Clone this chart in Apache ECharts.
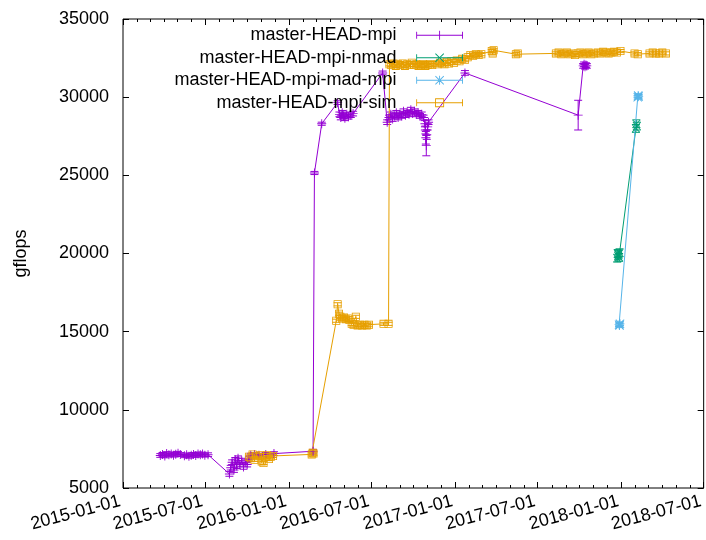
<!DOCTYPE html>
<html><head><meta charset="utf-8">
<script src="https://cdn.jsdelivr.net/npm/echarts@6/dist/echarts.min.js"></script>
<style>html,body{margin:0;padding:0;background:#fff}#c{width:706px;height:540px}</style>
</head><body><div id="c"></div>
<script>
// ---------- DATA ----------
const xTickLabels = ['2015-01-01','2015-07-01','2016-01-01','2016-07-01','2017-01-01','2017-07-01','2018-01-01','2018-07-01'];
const yTickValues = [5000,10000,15000,20000,25000,30000,35000];
const seriesNames = ['master-HEAD-mpi','master-HEAD-mpi-nmad','master-HEAD-mpi-mad-mpi','master-HEAD-mpi-sim'];

const mpiDates = ['2015-03-24','2015-03-29','2015-04-03','2015-04-07','2015-04-12','2015-04-17','2015-04-22','2015-04-27','2015-05-02','2015-05-07',
 '2015-05-16','2015-05-21','2015-05-26','2015-05-31','2015-06-05','2015-06-10','2015-06-15','2015-06-20','2015-06-25','2015-06-30','2015-07-07',
 '2015-08-23','2015-08-26','2015-08-29','2015-09-02','2015-09-05','2015-09-08','2015-09-11','2015-09-15','2015-09-19','2015-09-23','2015-09-27','2015-10-01','2015-10-05',
 '2015-10-09','2015-10-17','2015-10-27','2015-11-11','2015-11-29','2016-02-23','2016-02-26','2016-03-13','2016-04-17',
 '2016-04-21','2016-04-24','2016-04-27','2016-04-30','2016-05-03','2016-05-07','2016-05-11','2016-05-16','2016-05-21',
 '2016-07-25',
 '2016-08-04','2016-08-08','2016-08-12','2016-08-16','2016-08-20','2016-08-24','2016-08-28','2016-09-01','2016-09-05','2016-09-09','2016-09-13','2016-09-17','2016-09-21','2016-09-25','2016-09-29','2016-10-03','2016-10-07','2016-10-11','2016-10-15','2016-10-19','2016-10-23',
 '2016-10-26','2016-10-27','2016-10-28','2016-10-29','2016-10-30','2016-11-01','2016-11-03',
 '2017-01-22','2017-09-28','2017-10-09','2017-10-11','2017-10-13','2017-10-15','2017-10-17'];
const mpiValues = [7080,7150,7050,7200,7120,7180,7100,7160,7220,7140,
 7060,7120,7030,7100,7150,7080,7180,7120,7170,7100,7130,
 5900,6300,6650,6150,6800,6400,6900,6500,6750,6350,6650,6500,6850,
 7100,7150,7100,7150,7200,7350,25150,28300,29650,
 28900,28700,29000,28800,28650,28900,28750,28850,28950,
 31550,
 28400,28700,28900,28600,28800,29000,28700,28900,28800,29100,28850,29000,28900,29200,28950,29100,28900,29000,28800,28900,28700,
 28300,27900,27400,26900,27600,28100,28400,
 31550,28850,32000,32100,31950,32050,32000];
const mpiErrors = [120,120,120,120,120,120,120,120,120,120,
 120,120,120,120,120,120,120,120,120,120,120,
 150,150,150,150,150,150,150,150,150,150,150,150,150,
 120,120,120,120,120,120,100,100,120,
 150,150,150,150,150,150,150,150,150,
 120,
 150,150,150,150,150,150,150,150,150,150,150,150,150,150,150,150,150,150,150,150,150,
 200,250,400,650,300,200,150,
 150,950,150,150,150,150,150];

const nmadDates = ['2017-12-23','2017-12-24','2017-12-25','2017-12-26','2017-12-27','2017-12-28','2018-02-02','2018-02-03','2018-02-04'];
const nmadValues = [19700,20000,19850,19950,19750,20050,28000,28300,28150];
const nmadErrors = [250,250,250,250,250,250,250,250,250];

const madDates = ['2017-12-27','2017-12-28','2017-12-29','2018-02-06','2018-02-07','2018-02-08'];
const madValues = [15450,15400,15500,30000,30100,30050];
const madErrors = [120,120,120,120,120,120];

const simDates = ['2015-10-05','2015-10-09','2015-10-13','2015-10-17','2015-10-21','2015-10-25','2015-10-29','2015-11-02','2015-11-06','2015-11-10','2015-11-14','2015-11-18','2015-11-22','2015-11-27',
 '2016-02-20','2016-02-22','2016-02-24',
 '2016-04-14','2016-04-17','2016-04-20','2016-04-23','2016-04-27','2016-05-01','2016-05-05','2016-05-09','2016-05-13','2016-05-18','2016-05-22','2016-05-27','2016-05-31','2016-06-05','2016-06-10','2016-06-15','2016-06-20','2016-06-25',
 '2016-07-27','2016-08-07','2016-08-09',
 '2016-08-13','2016-08-18','2016-08-23','2016-08-28','2016-09-02','2016-09-07','2016-09-12','2016-09-17','2016-09-22','2016-09-27','2016-10-02','2016-10-07','2016-10-12','2016-10-17','2016-10-22','2016-10-27','2016-11-01','2016-11-06','2016-11-11',
 '2016-11-23','2016-11-28','2016-12-03','2016-12-08','2016-12-13','2016-12-18','2016-12-23','2016-12-29',
 '2017-01-04','2017-01-10','2017-01-16','2017-01-22','2017-01-28',
 '2017-02-03','2017-02-09','2017-02-15','2017-02-21','2017-02-27',
 '2017-03-22','2017-03-24','2017-03-26','2017-05-14','2017-05-18',
 '2017-08-10','2017-08-16','2017-08-22','2017-08-28','2017-09-03','2017-09-09','2017-09-15','2017-09-21','2017-09-27','2017-10-03','2017-10-09','2017-10-15','2017-10-21','2017-10-27','2017-11-02',
 '2017-11-10','2017-11-16','2017-11-22','2017-11-28','2017-12-04','2017-12-10','2017-12-16','2017-12-22','2017-12-30',
 '2018-01-30','2018-02-06',
 '2018-03-04','2018-03-11','2018-03-18','2018-03-25','2018-04-01','2018-04-09'];
const simValues = [7000,6900,7150,6800,7050,6950,7100,6700,6600,7000,7100,6850,7000,7050,
 7150,7250,7200,
 15700,16750,16150,15950,15850,15900,15800,15850,15750,15500,15450,15950,15400,15450,15400,15450,15400,15450,
 15500,15500,32100,
 32050,32150,32000,32100,32050,32150,32000,32100,32050,32200,32050,32100,32000,32050,32100,32000,32050,32100,32050,
 32100,32200,32150,32100,32250,32150,32300,32200,
 32350,32300,32450,32400,32550,
 32700,32650,32750,32700,32750,
 32950,32800,33000,32750,32800,
 32800,32850,32750,32800,32850,32750,32800,32700,32800,32850,32750,32800,32850,32750,32800,
 32850,32800,32900,32850,32800,32850,32900,32850,32950,
 32800,32750,
 32800,32850,32800,32800,32850,32800];
const simErrors = simValues.map(() => 100);

// ---------- STYLE ----------
const FONT = '"Liberation Sans", Arial, sans-serif';
const COLORS = ['#9400d3', '#009e73', '#56b4e9', '#e69f00'];
const PLUS = 'M0,4.5H10V5.5H0Z M4.5,0H5.5V10H4.5Z';
const CROSS = 'M0,0.7L0.7,0L10,9.3L9.3,10Z M10,0.7L9.3,0L0,9.3L0.7,10Z';
const SQUARE = 'M0,0H10V10H0Z M1,1V9H9V1Z';
const SYMBOLS = ['path://' + PLUS, 'path://' + CROSS, 'path://' + PLUS + ' ' + CROSS, 'path://' + SQUARE];
const SYMSIZE = [9, 8, 9, 8];

const LBASE = 'M0,1H1V9H0Z M51,1H52V9H51Z M0,4.5H52V5.5H0Z';
const LPLUS = 'M21,4.5H31V5.5H21Z M25.5,0H26.5V10H25.5Z';
const LCROSS = 'M21,0.7L21.7,0L31,9.3L30.3,10Z M31,0.7L30.3,0L21,9.3L21.7,10Z';
const LSQUARE = 'M21,0H31V10H21Z M22,1V9H30V1Z';
const LICONS = ['path://' + LBASE + ' ' + LPLUS, 'path://' + LBASE + ' ' + LCROSS,
  'path://' + LBASE + ' ' + LPLUS + ' ' + LCROSS, 'path://' + LBASE + ' ' + LSQUARE];

function ts(s) { const p = s.split('-').map(Number); return Date.UTC(p[0], p[1] - 1, p[2]); }

const majorTs = xTickLabels.map(ts);
const labelMap = {}; xTickLabels.forEach((l, i) => labelMap[majorTs[i]] = l);
const minorTs = [];
for (let y = 2015; y <= 2018; y++) for (let m = 0; m < 12; m++) {
  const t = Date.UTC(y, m, 1);
  if (t > majorTs[0] && t < majorTs[majorTs.length - 1] && majorTs.indexOf(t) < 0) minorTs.push(t);
}

const allDates = [mpiDates, nmadDates, madDates, simDates];
const allValues = [mpiValues, nmadValues, madValues, simValues];
const allErrors = [mpiErrors, nmadErrors, madErrors, simErrors];

function errRender(color) {
  return function (params, api) {
    const x = api.value(0), v = api.value(1), e = api.value(2);
    if (!e) return;
    const a = api.coord([x, v - e]), b = api.coord([x, v + e]);
    const w = 4;
    const st = { stroke: color, lineWidth: 1 };
    return { type: 'group', children: [
      { type: 'line', shape: { x1: a[0], y1: a[1], x2: b[0], y2: b[1] }, style: st },
      { type: 'line', shape: { x1: a[0] - w, y1: a[1], x2: a[0] + w, y2: a[1] }, style: st },
      { type: 'line', shape: { x1: b[0] - w, y1: b[1], x2: b[0] + w, y2: b[1] }, style: st }
    ] };
  };
}

const series = [];
seriesNames.forEach((name, k) => {
  const d = allDates[k], v = allValues[k], e = allErrors[k];
  series.push({
    name: name, type: 'line', xAxisIndex: 0, yAxisIndex: 0,
    data: d.map((s, i) => [ts(s), v[i]]),
    symbol: SYMBOLS[k], symbolSize: SYMSIZE[k], showAllSymbol: true,
    itemStyle: { color: COLORS[k], borderWidth: 0 },
    lineStyle: { color: COLORS[k], width: 1 },
    emphasis: { disabled: true }, animation: false
  });
  series.push({
    name: name + ' err', type: 'custom', xAxisIndex: 0, yAxisIndex: 0,
    data: d.map((s, i) => [ts(s), v[i], e[i]]),
    encode: { x: 0, y: 1 },
    renderItem: errRender(COLORS[k]), animation: false, silent: true
  });
});

const fontStyle = { fontFamily: FONT, fontSize: 18, color: '#000' };
const tickLine = { color: '#000', width: 1 };
const xMin = majorTs[0], xMax = majorTs[majorTs.length - 1];
function xAx(pos, custom, len, labels) {
  return {
    type: 'value', position: pos, min: xMin, max: xMax, scale: true,
    axisLine: { show: false }, splitLine: { show: false },
    axisTick: { show: true, inside: true, length: len, customValues: custom, lineStyle: tickLine },
    axisLabel: labels ? Object.assign({ show: true, customValues: custom, rotate: 15, margin: 12,
      padding: [0, 3, 0, 0], formatter: (val) => labelMap[val] || '' }, fontStyle) : { show: false }
  };
}

const option = {
  animation: false,
  backgroundColor: '#fff',
  grid: { left: 123, right: 1, top: 19, bottom: 52, show: true, borderColor: '#000', borderWidth: 1, backgroundColor: 'transparent' },
  legend: {
    orient: 'vertical', align: 'right', right: 243, top: 24, padding: 0,
    itemWidth: 52, itemHeight: 9, itemGap: 0,
    data: seriesNames.map((n, k) => ({ name: n, icon: LICONS[k] })),
    textStyle: Object.assign({ lineHeight: 22.5, padding: [0, 12, 0, 0] }, fontStyle),
    itemStyle: { borderWidth: 0 },
    selectedMode: false
  },
  xAxis: [xAx('bottom', majorTs, 6, true), xAx('bottom', minorTs, 3, false), xAx('top', majorTs, 6, false), xAx('top', minorTs, 3, false)],
  yAxis: [
    { type: 'value', position: 'left', min: yTickValues[0], max: yTickValues[yTickValues.length - 1], interval: 5000,
      axisLine: { show: false }, splitLine: { show: false },
      axisTick: { show: true, inside: true, length: 6, lineStyle: tickLine },
      axisLabel: Object.assign({ margin: 14, formatter: (v) => String(v) }, fontStyle),
      name: 'gflops', nameLocation: 'middle', nameGap: 93, nameRotate: 90, nameTextStyle: fontStyle },
    { type: 'value', position: 'right', min: yTickValues[0], max: yTickValues[yTickValues.length - 1], interval: 5000,
      axisLine: { show: false }, splitLine: { show: false },
      axisTick: { show: true, inside: true, length: 6, lineStyle: tickLine },
      axisLabel: { show: false } }
  ],
  series: series
};

const chart = echarts.init(document.getElementById('c'), null, { renderer: 'canvas' });
chart.setOption(option);
</script>
</body></html>
